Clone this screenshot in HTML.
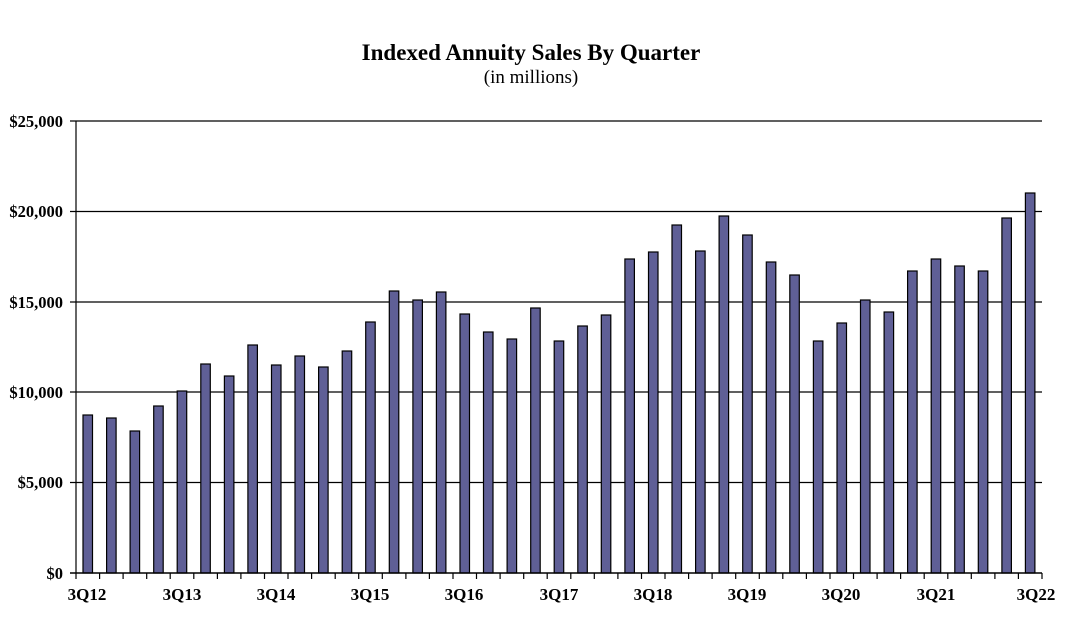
<!DOCTYPE html>
<html><head><meta charset="utf-8"><style>
html,body{margin:0;padding:0;background:#fff;}
svg text{font-family:"Liberation Serif",serif;}
</style></head><body>
<svg width="1074" height="632" xmlns="http://www.w3.org/2000/svg">
<text x="531" y="60" text-anchor="middle" font-size="23" font-weight="bold">Indexed Annuity Sales By Quarter</text>
<text x="531" y="83" text-anchor="middle" font-size="19">(in millions)</text>
<g stroke="#000" stroke-width="1.2">
<line x1="70" y1="121" x2="1042" y2="121"/>
<line x1="70" y1="211.5" x2="1042" y2="211.5"/>
<line x1="70" y1="302" x2="1042" y2="302"/>
<line x1="70" y1="392" x2="1042" y2="392"/>
<line x1="70" y1="482.5" x2="1042" y2="482.5"/>
<line x1="76" y1="121" x2="76" y2="573"/>
</g>
<g font-size="16.5" font-weight="bold" text-anchor="end">
<text x="63" y="127">$25,000</text>
<text x="63" y="217">$20,000</text>
<text x="63" y="308">$15,000</text>
<text x="63" y="398">$10,000</text>
<text x="63" y="488">$5,000</text>
<text x="63" y="579">$0</text>
</g>
<g fill="#5f5f96" stroke="#000" stroke-width="1.2">
<rect x="83.0" y="415" width="9.5" height="158"/>
<rect x="106.6" y="418" width="9.5" height="155"/>
<rect x="130.1" y="431" width="9.5" height="142"/>
<rect x="153.7" y="406" width="9.5" height="167"/>
<rect x="177.2" y="391" width="9.5" height="182"/>
<rect x="200.8" y="364" width="9.5" height="209"/>
<rect x="224.4" y="376" width="9.5" height="197"/>
<rect x="247.9" y="345" width="9.5" height="228"/>
<rect x="271.5" y="365" width="9.5" height="208"/>
<rect x="295.0" y="356" width="9.5" height="217"/>
<rect x="318.6" y="367" width="9.5" height="206"/>
<rect x="342.2" y="351" width="9.5" height="222"/>
<rect x="365.7" y="322" width="9.5" height="251"/>
<rect x="389.3" y="291" width="9.5" height="282"/>
<rect x="412.9" y="300" width="9.5" height="273"/>
<rect x="436.4" y="292" width="9.5" height="281"/>
<rect x="460.0" y="314" width="9.5" height="259"/>
<rect x="483.5" y="332" width="9.5" height="241"/>
<rect x="507.1" y="339" width="9.5" height="234"/>
<rect x="530.7" y="308" width="9.5" height="265"/>
<rect x="554.2" y="341" width="9.5" height="232"/>
<rect x="577.8" y="326" width="9.5" height="247"/>
<rect x="601.3" y="315" width="9.5" height="258"/>
<rect x="624.9" y="259" width="9.5" height="314"/>
<rect x="648.5" y="252" width="9.5" height="321"/>
<rect x="672.0" y="225" width="9.5" height="348"/>
<rect x="695.6" y="251" width="9.5" height="322"/>
<rect x="719.1" y="216" width="9.5" height="357"/>
<rect x="742.7" y="235" width="9.5" height="338"/>
<rect x="766.3" y="262" width="9.5" height="311"/>
<rect x="789.8" y="275" width="9.5" height="298"/>
<rect x="813.4" y="341" width="9.5" height="232"/>
<rect x="837.0" y="323" width="9.5" height="250"/>
<rect x="860.5" y="300" width="9.5" height="273"/>
<rect x="884.1" y="312" width="9.5" height="261"/>
<rect x="907.6" y="271" width="9.5" height="302"/>
<rect x="931.2" y="259" width="9.5" height="314"/>
<rect x="954.8" y="266" width="9.5" height="307"/>
<rect x="978.3" y="271" width="9.5" height="302"/>
<rect x="1001.9" y="218" width="9.5" height="355"/>
<rect x="1025.4" y="193" width="9.5" height="380"/>
</g>
<line x1="70" y1="573" x2="1042" y2="573" stroke="#000" stroke-width="1.5"/>
<path stroke="#000" stroke-width="1.2" fill="none" d="M76 573v6M99.6 573v6M123.1 573v6M146.7 573v6M170.2 573v6M193.8 573v6M217.4 573v6M240.9 573v6M264.5 573v6M288 573v6M311.6 573v6M335.2 573v6M358.7 573v6M382.3 573v6M405.9 573v6M429.4 573v6M453 573v6M476.5 573v6M500.1 573v6M523.7 573v6M547.2 573v6M570.8 573v6M594.3 573v6M617.9 573v6M641.5 573v6M665 573v6M688.6 573v6M712.1 573v6M735.7 573v6M759.3 573v6M782.8 573v6M806.4 573v6M830 573v6M853.5 573v6M877.1 573v6M900.6 573v6M924.2 573v6M947.8 573v6M971.3 573v6M994.9 573v6M1018.4 573v6M1042 573v6"/>
<g font-size="17" font-weight="bold" text-anchor="middle">
<text x="87" y="600">3Q12</text>
<text x="182" y="600">3Q13</text>
<text x="276" y="600">3Q14</text>
<text x="370" y="600">3Q15</text>
<text x="464" y="600">3Q16</text>
<text x="559" y="600">3Q17</text>
<text x="653" y="600">3Q18</text>
<text x="747" y="600">3Q19</text>
<text x="841" y="600">3Q20</text>
<text x="936" y="600">3Q21</text>
<text x="1036" y="600">3Q22</text>
</g>
</svg>
</body></html>
